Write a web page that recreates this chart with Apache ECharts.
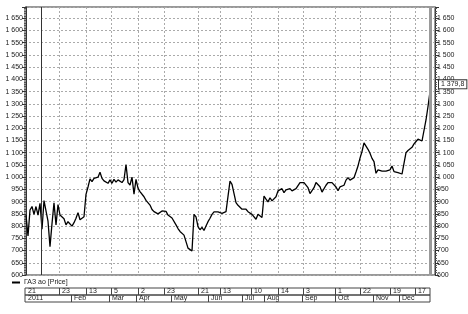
<!DOCTYPE html>
<html><head><meta charset="utf-8">
<script src="https://cdn.jsdelivr.net/npm/echarts@6/dist/echarts.min.js"></script>
<style>html,body{margin:0;padding:0;background:#fff}#c{width:468px;height:314px}</style>
</head><body><div id="c"></div>
<script>
const seriesName = 'ГАЗ ао [Price]';
// one value per bar (trading-day slot)
const prices = [
845,760,866,880,848,880,845,893,787,904,905,820,716,810,895,805,888,845,840,830,
805,818,810,800,814,832,855,826,828,838,930,960,993,982,995,995,1000,1020,995,985,
982,975,989,975,991,980,989,991,978,990,1052,978,968,1000,931,991,955,941,948,920,
905,903,886,868,859,855,850,857,862,868,860,845,838,833,828,805,790,778,772,763,
760,710,705,698,848,838,798,785,795,782,800,818,832,848,858,862,858,862,852,855,
859,866,984,971,964,896,885,885,869,862,869,859,855,848,855,828,848,855,835,923,
910,899,916,903,910,920,944,950,953,937,948,944,953,944,950,953,961,978,984,978,
980,957,933,934,957,978,978,961,939,944,967,978,985,978,975,960,945,960,957,967,
988,998,988,984,998,1021,1046,1078,1105,1140,1136,1114,1098,1077,1064,1016,1030,1025,1025,1025,
1025,1025,1030,1046,1023,1020,1019,1016,1013,1009,1100,1109,1105,1122,1136,1146,1156,1155,1148,1146,
1234,1289,1350
];
const lastValue = 1379.8;
const lastValueText = '1 379,8';
const yMin = 600, yMax = 1696, yStep = 50, yLabelMax = 1650;
const dayTickPos = [16.5,30,42.5,56,69,86,97,112.5,126,138.5,154.5,167,182,194.5];
const dayLabels = ['21','23','13','5','2','23','21','13','10','14','3','1','22','19','17'];
const monthTickPos = [22.5,41.5,55,72.5,91,108,119,138,154.5,173.5,186.5];
const monthLabels = ['2011','Feb','Mar','Apr','May','Jun','Jul','Aug','Sep','Oct','Nov','Dec'];
const yearLinePos = 7.6;
const xStart = -0.5, xEndPlot = 204.5, xEndRows = 202;

const FONT = 'Liberation Sans';
function fmtNum(v){
  if (v % yStep !== 0 || v > yLabelMax) return '';
  if (v >= 1000) { const r = String(v % 1000).padStart(3,'0'); return Math.floor(v/1000) + ' ' + r; }
  return String(v);
}
const rowLabelPos = [xStart].concat(dayTickPos);
const rowLabelPos2 = [xStart].concat(monthTickPos);

const chart = echarts.init(document.getElementById('c'), null, {renderer:'canvas'});
const yAxisCommon = {
  type:'value', min:yMin, max:yMax, interval:yStep, gridIndex:0,
  axisLine:{show:true, lineStyle:{color:'#333', width:1}},
  axisTick:{show:true, inside:false, length:4, lineStyle:{color:'#333'}},
  minorTick:{show:true, splitNumber:5, length:2, lineStyle:{color:'#555'}},
  axisLabel:{fontSize:7, fontFamily:FONT, color:'#222', margin:2, formatter:fmtNum, showMaxLabel:true, showMinLabel:true},
};
function rowAxis(gridIndex, tickPos, labelPos, labels){
  return {
    type:'value', gridIndex, position:'bottom', min:xStart, max:xEndRows,
    axisLine:{show:false},
    axisTick:{show:false, customValues:tickPos},
    splitLine:{show:true, lineStyle:{color:'#444', width:1, type:'solid'}},
    axisLabel:{show:true, inside:true, customValues:labelPos, align:'left', verticalAlign:'bottom',
      margin:0, lineHeight:7, padding:[0,0,0,3], fontSize:7, fontFamily:FONT, color:'#222',
      formatter:(v)=>{ const k = labelPos.findIndex(p=>Math.abs(p-v)<1e-6); return k>=0?labels[k]:''; }}
  };
}
const option = {
  animation:false,
  backgroundColor:'#fff',
  grid:[
    {left:25, right:33, top:7, bottom:39, show:true, borderColor:'#333', borderWidth:1},
    {left:25, right:38, top:288, height:7, show:true, borderColor:'#444', borderWidth:1},
    {left:25, right:38, top:295, height:7, show:true, borderColor:'#444', borderWidth:1}
  ],
  legend:{show:true, left:12, top:279, padding:0, itemWidth:8, itemHeight:2, itemGap:5, icon:'rect',
    textStyle:{fontSize:7, fontFamily:FONT, color:'#222', padding:[0,0,0,-1]}, data:[seriesName]},
  xAxis:[
    {type:'value', gridIndex:0, min:xStart, max:xEndPlot,
      axisLine:{show:false}, axisLabel:{show:false},
      axisTick:{show:false, customValues:dayTickPos},
      splitLine:{show:true, lineStyle:{color:'#aaa', type:[2,2], width:1}}},
    rowAxis(1, dayTickPos, rowLabelPos, dayLabels),
    rowAxis(2, monthTickPos, rowLabelPos2, monthLabels)
  ],
  yAxis:[
    Object.assign({}, yAxisCommon, {position:'left', splitLine:{show:true, lineStyle:{color:'#aaa', type:[2,2], width:1}}}),
    Object.assign({}, yAxisCommon, {position:'right', splitLine:{show:false}}),
    {type:'value', gridIndex:1, show:false}, {type:'value', gridIndex:2, show:false}
  ],
  series:[{
    name:seriesName, type:'line', xAxisIndex:0, yAxisIndex:0,
    data:prices.map((v,i)=>[i,v]), symbol:'none', showSymbol:false,
    lineStyle:{color:'#000', width:1.3}, itemStyle:{color:'#000'},
    markLine:{silent:true, symbol:'none', animation:false,
      data:[
        {xAxis:yearLinePos, lineStyle:{color:'#333', type:'solid', width:1}, label:{show:false}},
        {xAxis:prices.length-1, lineStyle:{color:'#9a9a9a', type:'solid', width:3}, label:{show:false}}
      ]}
  }]
};
chart.setOption(option);
// last-value tag on the right axis, placed through the axis scale
const tagY = chart.convertToPixel({yAxisIndex:1}, lastValue);
const tagX = chart.convertToPixel({xAxisIndex:0}, xEndPlot);
chart.setOption({graphic:[{type:'text', x:tagX+4, y:tagY, z:100,
  style:{text:lastValueText, fontSize:7, fontFamily:FONT, fill:'#222', verticalAlign:'middle', align:'left',
    backgroundColor:'#fff', borderColor:'#333', borderWidth:1, padding:[1,2,0,2]}}]});
</script></body></html>
